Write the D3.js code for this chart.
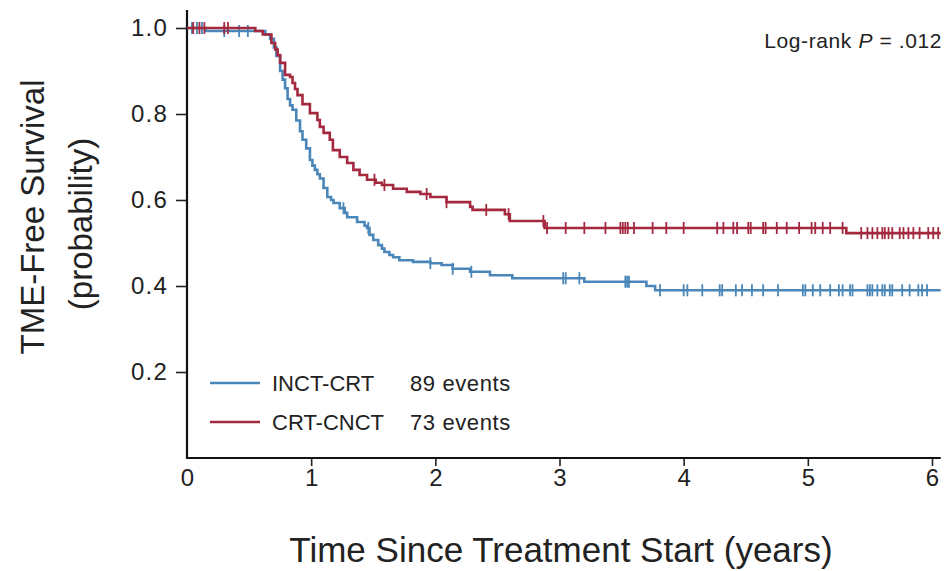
<!DOCTYPE html>
<html>
<head>
<meta charset="utf-8">
<script src="https://cdn.jsdelivr.net/npm/d3@7"></script>
<style>
  html, body { margin: 0; padding: 0; background: #fff; }
  svg { display: block; font-family: "Liberation Sans", Arial, sans-serif; }
</style>
</head>
<body>
<svg id="chart" width="950" height="571"></svg>
<script>
// ---- data ----
const xTicks = [0, 1, 2, 3, 4, 5, 6];
const yTicks = [0.2, 0.4, 0.6, 0.8, 1.0];
const followEnd = 6.07;

// INCT-CRT (blue) step function: times and survival after each step
const inctTimes = [0, 0.15, 0.63, 0.67, 0.70, 0.72, 0.75, 0.77, 0.79, 0.81, 0.83, 0.85, 0.88, 0.91, 0.93, 0.96, 0.99, 1.01, 1.03, 1.05, 1.07, 1.10, 1.13, 1.16, 1.18, 1.23, 1.27, 1.29, 1.37, 1.43, 1.45, 1.47, 1.50, 1.54, 1.57, 1.59, 1.63, 1.66, 1.71, 1.82, 1.96, 2.05, 2.14, 2.28, 2.44, 2.62, 3.20, 3.70, 3.77];
const inctSurv  = [1.0, 0.993, 0.985, 0.975, 0.955, 0.935, 0.90, 0.88, 0.86, 0.835, 0.82, 0.81, 0.785, 0.76, 0.74, 0.72, 0.693, 0.68, 0.67, 0.66, 0.65, 0.628, 0.607, 0.60, 0.593, 0.581, 0.57, 0.56, 0.549, 0.54, 0.535, 0.519, 0.507, 0.495, 0.487, 0.479, 0.472, 0.467, 0.46, 0.456, 0.453, 0.449, 0.44, 0.433, 0.425, 0.418, 0.41, 0.40, 0.39];
const inctCensor = [0.04, 0.08, 0.12, 0.30, 0.42, 0.49, 1.26, 1.46, 1.96, 2.14, 2.29, 3.03, 3.05, 3.16, 3.53, 3.545, 3.56, 3.81, 4.00, 4.03, 4.15, 4.29, 4.31, 4.42, 4.47, 4.55, 4.64, 4.76, 4.96, 4.98, 5.04, 5.10, 5.18, 5.25, 5.28, 5.34, 5.36, 5.48, 5.50, 5.52, 5.56, 5.60, 5.62, 5.66, 5.68, 5.76, 5.82, 5.89, 5.92, 5.96];

// CRT-CNCT (red)
const crtTimes = [0, 0.55, 0.61, 0.68, 0.71, 0.73, 0.75, 0.79, 0.83, 0.85, 0.87, 0.89, 0.93, 0.99, 1.05, 1.07, 1.10, 1.15, 1.175, 1.23, 1.29, 1.34, 1.39, 1.45, 1.52, 1.57, 1.66, 1.77, 1.88, 1.96, 2.09, 2.28, 2.30, 2.56, 2.60, 2.88, 5.31];
const crtSurv  = [1.0, 0.993, 0.985, 0.965, 0.95, 0.937, 0.919, 0.891, 0.886, 0.872, 0.858, 0.844, 0.823, 0.802, 0.786, 0.77, 0.756, 0.74, 0.716, 0.70, 0.686, 0.67, 0.658, 0.647, 0.640, 0.635, 0.626, 0.619, 0.614, 0.607, 0.595, 0.584, 0.577, 0.567, 0.551, 0.535, 0.523];
const crtCensor = [0.05, 0.10, 0.14, 0.30, 0.33, 1.51, 1.59, 1.93, 2.09, 2.41, 2.59, 2.87, 2.90, 3.05, 3.20, 3.37, 3.49, 3.51, 3.53, 3.55, 3.60, 3.75, 3.86, 4.00, 4.27, 4.32, 4.40, 4.43, 4.52, 4.54, 4.64, 4.66, 4.75, 4.83, 4.93, 5.03, 5.06, 5.12, 5.18, 5.28, 5.43, 5.48, 5.52, 5.56, 5.60, 5.62, 5.65, 5.68, 5.74, 5.77, 5.81, 5.85, 5.90, 5.97, 6.01, 6.05];

const seriesNames = ["INCT-CRT", "CRT-CNCT"];
const seriesEvents = ["89 events", "73 events"];
const seriesColors = ["#4a86b8", "#a4283e"];

// ---- layout ----
const svg = d3.select("#chart");
const x = d3.scaleLinear().domain([0, 6]).range([187, 932]);
const y = d3.scaleLinear().domain([0, 1]).range([458, 28]);
const txt = "#222";

// axes
const yAxis = d3.axisLeft(y).tickValues(yTicks).tickSize(11).tickPadding(8).tickFormat(d3.format(".1f"));
const gy = svg.append("g").attr("transform", `translate(${x(0)},0)`).call(yAxis);
gy.select(".domain").remove();
gy.selectAll(".tick line").attr("stroke", "#222").attr("stroke-width", 1.6);
gy.selectAll(".tick text").attr("font-size", 24).attr("fill", txt).attr("letter-spacing", 1.2)
  .attr("font-family", "'Liberation Sans', Arial, sans-serif");

const xAxis = d3.axisBottom(x).tickValues(xTicks).tickSize(8).tickPadding(3).tickFormat(d3.format("d"));
const gx = svg.append("g").attr("transform", `translate(0,${y(0)})`).call(xAxis);
gx.select(".domain").remove();
gx.selectAll(".tick line").attr("stroke", "#222").attr("stroke-width", 1.6)
  .attr("display", d => d === 0 ? "none" : null);
gx.selectAll(".tick text").attr("font-size", 24).attr("fill", txt)
  .attr("font-family", "'Liberation Sans', Arial, sans-serif");

// axis lines
svg.append("line").attr("x1", x(0)).attr("x2", x(0)).attr("y1", y(1.042)).attr("y2", y(0))
  .attr("stroke", "#111").attr("stroke-width", 2.2);
svg.append("line").attr("x1", x(0) - 1).attr("x2", x(6.07)).attr("y1", y(0)).attr("y2", y(0))
  .attr("stroke", "#111").attr("stroke-width", 2.2);

// curves
const line = d3.line().x(d => x(d[0])).y(d => y(d[1])).curve(d3.curveStepAfter);
function drawKM(times, surv, censor, color) {
  const pts = times.map((t, i) => [t, surv[i]]);
  pts.push([followEnd, surv[surv.length - 1]]);
  svg.append("path").datum(pts).attr("d", line)
    .attr("fill", "none").attr("stroke", color).attr("stroke-width", 2.6);
  const survAt = t => surv[Math.max(0, d3.bisectRight(times, t) - 1)];
  svg.append("g").selectAll("line").data(censor).join("line")
    .attr("x1", d => x(d)).attr("x2", d => x(d))
    .attr("y1", d => y(survAt(d)) - 6).attr("y2", d => y(survAt(d)) + 6)
    .attr("stroke", color).attr("stroke-width", 1.8);
}
drawKM(inctTimes, inctSurv, inctCensor, seriesColors[0]);
drawKM(crtTimes, crtSurv, crtCensor, seriesColors[1]);

// legend
const legY = [383, 422];
seriesNames.forEach((name, i) => {
  svg.append("line").attr("x1", 210).attr("x2", 260).attr("y1", legY[i]).attr("y2", legY[i])
    .attr("stroke", seriesColors[i]).attr("stroke-width", 2.6);
  svg.append("text").attr("x", 272).attr("y", legY[i] + 8).attr("font-size", 22).attr("fill", txt).text(name);
  svg.append("text").attr("x", 410).attr("y", legY[i] + 8).attr("font-size", 22).attr("fill", txt)
    .attr("letter-spacing", 0.6).text(seriesEvents[i]);
});

// p-value
const pt = svg.append("text").attr("x", 942).attr("y", 48).attr("text-anchor", "end")
  .attr("font-size", 21).attr("fill", txt).attr("letter-spacing", 0.6);
pt.append("tspan").text("Log-rank ");
pt.append("tspan").attr("font-style", "italic").text("P");
pt.append("tspan").text(" = .012");

// axis titles
svg.append("text").attr("transform", "translate(44,217) rotate(-90)").attr("text-anchor", "middle")
  .attr("font-size", 33).attr("fill", txt).text("TME-Free Survival");
svg.append("text").attr("transform", "translate(92,224) rotate(-90)").attr("text-anchor", "middle")
  .attr("font-size", 33).attr("fill", txt).text("(probability)");
svg.append("text").attr("x", 561).attr("y", 562).attr("text-anchor", "middle")
  .attr("font-size", 35).attr("fill", txt).text("Time Since Treatment Start (years)");
</script>
</body>
</html>
